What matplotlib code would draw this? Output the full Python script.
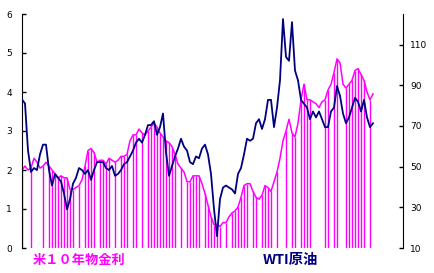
import numpy as np
import matplotlib
matplotlib.use("Agg")
import matplotlib.pyplot as plt

plt.rcParams['font.family'] = ['DejaVu Sans']

# US 10-year yield (%), left axis
yield_vals = [2.0, 2.1, 2.0, 2.05, 2.3, 2.2, 2.05, 2.1, 2.2, 2.1,
              2.0, 1.9, 1.8, 1.85, 1.8, 1.8, 1.5, 1.5, 1.55, 1.6,
              1.75, 2.1, 2.5, 2.55, 2.45, 2.2, 2.25, 2.25, 2.15, 2.3,
              2.25, 2.2, 2.25, 2.35, 2.35, 2.4, 2.75, 2.9, 2.9, 3.05,
              2.95, 2.9, 3.0, 3.1, 3.2, 3.1, 2.95, 2.85, 2.75, 2.7,
              2.6, 2.4, 2.15, 2.05, 1.95, 1.7, 1.7, 1.85, 1.85, 1.85,
              1.65, 1.4, 1.1, 0.8, 0.6, 0.6, 0.55, 0.65, 0.65, 0.8,
              0.9, 0.95, 1.05, 1.3, 1.6, 1.65, 1.65, 1.45, 1.3, 1.25,
              1.35, 1.6, 1.55, 1.45, 1.7, 1.95, 2.3, 2.75, 3.0, 3.3,
              2.95, 2.85, 3.2, 3.8, 4.2, 3.8, 3.8, 3.75, 3.7, 3.6,
              3.75, 3.8, 4.05, 4.2, 4.5, 4.85, 4.75, 4.2, 4.1, 4.2,
              4.3, 4.55, 4.6, 4.45, 4.3, 4.0, 3.8, 3.95]

# days on which the yield series was recorded as zero
zero_days = [0, 3, 7, 9, 10, 11, 12, 13, 14, 15, 16, 17, 19, 21, 22, 23, 24,
             26, 27, 28, 29, 31, 33, 34, 35, 37, 38, 40, 42, 43, 44, 45, 46,
             47, 48, 49, 50, 51, 53, 55, 56, 57, 58, 59, 61, 62, 63, 64, 65,
             66, 68, 70, 71, 72, 73, 74, 75, 77, 78, 80, 81, 82, 83, 85, 88,
             90, 91, 93, 94, 95, 96, 101, 102, 104, 105, 108, 109, 110, 111,
             112, 113, 114, 116]

# WTI crude oil ($), right axis
wti_vals = [83, 81, 58, 47.4, 49.3, 48.3, 56, 60.8, 60.8, 48.3,
            40.7, 46.4, 44.5, 42.6, 36.8, 29.0, 34, 41.6, 44.5, 49.3,
            48.3, 46.4, 48.3, 43.5, 48.3, 52.2, 52.2, 52.2, 49.3, 48.3,
            50.3, 45.5, 46.4, 48.3, 51.2, 52.2, 55, 57.9, 61.8, 63.7,
            61.8, 65.6, 70.4, 70.4, 72.3, 65.6, 69.4, 76.1, 57, 45.5,
            50.3, 55, 58.9, 63.7, 59.8, 57.9, 52.2, 51.2, 55, 54.1,
            58.9, 60.8, 56, 46.4, 29.2, 15.8, 34, 39.7, 40.7, 39.7,
            38.8, 36.8, 46.4, 49.3, 56, 63.7, 62.7, 63.7, 71.3, 73.3,
            68.5, 73.3, 82.8, 82.8, 69.4, 79, 92.4, 122.5, 103.9, 102,
            121.0, 97.2, 92.4, 82.8, 80.9, 79, 73.3, 77.1, 74.2, 77.1,
            73.3, 69.4, 69.4, 77.1, 79, 89.6, 84.8, 76.1, 71.3, 74.2,
            79, 83.8, 81.9, 77.1, 82.8, 74.2, 69.4, 71.3]

left_ticks = [0, 1, 2, 3, 4, 5, 6]
right_ticks = [10, 30, 50, 70, 90, 110]
label_yield = "米１０年物金利"
label_wti = "WTI原油"

MAGENTA = "#FF00FF"
NAVY = "#000080"

fig = plt.figure(figsize=(4.35, 2.73), dpi=100)
ax = fig.add_axes([22/435, 25/273, (402.7-22)/435, 234/273])
ax2 = ax.twinx()

days = np.arange(len(yield_vals))
yv = np.array(yield_vals)
ax.plot(days, yv, color=MAGENTA, lw=1.1, zorder=2)
ax.vlines(zero_days, 0, yv[zero_days], color=MAGENTA, lw=1.0, zorder=2)

ax2.plot(np.arange(len(wti_vals)), wti_vals, color=NAVY, lw=1.3, zorder=3)

ax.set_xlim(0, 126.9)
ax.set_ylim(0, 6)
ax2.set_ylim(10, 125)
ax.set_yticks(left_ticks)
ax2.set_yticks(right_ticks)
ax.set_xticks([])

for a in (ax, ax2):
    for s in ("top", "bottom"):
        a.spines[s].set_visible(False)
    a.spines["left"].set_visible(a is ax)
    a.spines["right"].set_visible(a is ax2)
ax.spines["left"].set_color("black")
ax2.spines["right"].set_color("black")
ax.tick_params(axis="y", direction="in", length=3, width=1, pad=7.2, labelsize=6.5)
ax2.tick_params(axis="y", direction="in", length=3, width=1, pad=5.3, labelsize=6.5)

fig.text(33/435, 1 - 260/273, label_yield, color=MAGENTA, fontsize=9.5,
         fontweight="bold", family=["Noto Sans CJK JP", "DejaVu Sans"],
         ha="left", va="center")
fig.text(263/435, 1 - 260/273, label_wti, color=NAVY, fontsize=10.3,
         fontweight="bold", family=["Noto Sans CJK JP", "DejaVu Sans"],
         ha="left", va="center")

fig.savefig("out.png", dpi=100)
